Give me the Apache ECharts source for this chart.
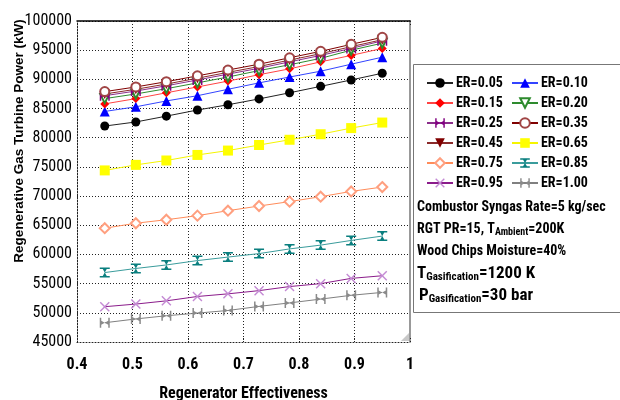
<!DOCTYPE html>
<html>
<head>
<meta charset="utf-8">
<script src="https://cdn.jsdelivr.net/npm/echarts@6/dist/echarts.min.js"></script>
<style>html,body{margin:0;padding:0;background:#fff;}#c{width:620px;height:400px;}</style>
</head>
<body>
<div id="c"></div>
<script>
var effectiveness = [0.45, 0.506, 0.561, 0.617, 0.672, 0.728, 0.783, 0.839, 0.894, 0.95];
var er005 = [82000, 82700, 83700, 84750, 85650, 86650, 87700, 88800, 89900, 91050];
var er010 = [84500, 85300, 86300, 87200, 88300, 89400, 90400, 91400, 92600, 93800];
var er015 = [85800, 86700, 87700, 88700, 89700, 90800, 91800, 93000, 94100, 95300];
var er020 = [86700, 87500, 88400, 89400, 90400, 91500, 92500, 93600, 95000, 96200];
var er025 = [87200, 88000, 88900, 89900, 90900, 91900, 93000, 94100, 95300, 96600];
var er035 = [87900, 88700, 89600, 90600, 91600, 92600, 93700, 94800, 96000, 97200];
var er045 = [87500, 88300, 89200, 90200, 91200, 92200, 93300, 94400, 95600, 96800];
var er065 = [74400, 75350, 76100, 77050, 77800, 78750, 79650, 80600, 81650, 82600];
var er075 = [64500, 65350, 65950, 66650, 67500, 68300, 69050, 69900, 70800, 71550];
var er085 = [56900, 57600, 58200, 58950, 59550, 60150, 60950, 61600, 62400, 63150];
var er095 = [51050, 51500, 52050, 52800, 53250, 53800, 54500, 55000, 55900, 56350];
var er100 = [48300, 48950, 49500, 49950, 50400, 51100, 51700, 52350, 53000, 53500];
var legendCol1 = ['ER=0.05', 'ER=0.15', 'ER=0.25', 'ER=0.45', 'ER=0.75', 'ER=0.95'];
var legendCol2 = ['ER=0.10', 'ER=0.20', 'ER=0.35', 'ER=0.65', 'ER=0.85', 'ER=1.00'];

var NARROW = "'Liberation Sans Narrow','Arial Narrow','Roboto Condensed',sans-serif";
var BOWTIE = 'path://M0,0L1.5,0L1.5,3L5,5L8.5,3L8.5,0L10,0L10,10L8.5,10L8.5,7L5,5L1.5,7L1.5,10L0,10Z';
var HOURGLASS = 'path://M0,0L10,0L10,1.5L7,1.5L5,5L7,8.5L10,8.5L10,10L0,10L0,8.5L3,8.5L5,5L3,1.5L0,1.5Z';
var XMARK = 'path://M0,1L1,0L5,4L9,0L10,1L6,5L10,9L9,10L5,6L1,10L0,9L4,5Z';

function pairs(ys) { return effectiveness.map(function (x, i) { return [x, ys[i]]; }); }
function mk(name, ys, lineColor, symbol, symColor, size, rotate) {
  return {
    name: name, type: 'line', data: pairs(ys), symbol: symbol, symbolSize: size,
    symbolRotate: rotate || 0, showSymbol: true,
    lineStyle: { color: lineColor, width: 1 },
    itemStyle: { color: symColor, borderColor: symColor, borderWidth: symbol.indexOf('empty') === 0 ? 1.2 : 0 },
    emphasis: { disabled: true }, animation: false
  };
}

var chart = echarts.init(document.getElementById('c'), null, { renderer: 'canvas' });
var dotted = { type: [1, 2], color: '#222', width: 1 };
var option = {
  backgroundColor: '#fff',
  animation: false,
  grid: { left: 77, right: 210, top: 21, bottom: 58, show: false, containLabel: false, outerBoundsMode: 'none' },
  xAxis: [
    { type: 'value', min: 0.4, max: 1, interval: 0.1, position: 'bottom',
      axisLine: { show: true, lineStyle: dotted },
      axisTick: { show: true, inside: true, length: 4, lineStyle: dotted },
      splitLine: { show: true, lineStyle: dotted },
      axisLabel: { color: '#000', fontSize: 16, fontWeight: 'bold', fontFamily: NARROW, margin: 15 },
      name: 'Regenerator Effectiveness', nameLocation: 'middle', nameGap: 44,
      nameTextStyle: { color: '#000', fontSize: 16, fontWeight: 'bold', fontFamily: NARROW } },
    { type: 'value', min: 0.4, max: 1, interval: 0.1, position: 'top',
      axisLine: { show: true, lineStyle: { color: '#000', width: 1.5 } },
      axisTick: { show: true, inside: true, length: 4, lineStyle: dotted },
      minorTick: { show: true, splitNumber: 5, length: 3, lineStyle: dotted },
      splitLine: { show: false }, axisLabel: { show: false } }
  ],
  yAxis: [
    { type: 'value', min: 45000, max: 100000, interval: 5000, position: 'left',
      axisLine: { show: true, lineStyle: dotted },
      axisTick: { show: true, inside: true, length: 4, lineStyle: dotted },
      splitLine: { show: true, lineStyle: dotted },
      axisLabel: { color: '#000', fontSize: 16, fontFamily: NARROW, margin: 5, formatter: function (v) { return String(v); } } },
    { type: 'value', min: 45000, max: 100000, interval: 5000, position: 'right',
      axisLine: { show: true, lineStyle: { color: '#999', width: 2 } },
      axisTick: { show: false }, splitLine: { show: false }, axisLabel: { show: false } }
  ],
  legend: [
    { data: legendCol1, orient: 'vertical', left: 421, top: 71, itemWidth: 26, itemHeight: 12, itemGap: 6,
      textStyle: { color: '#000', fontSize: 14, fontWeight: 'bold', fontFamily: NARROW, padding: [0, 0, 0, -2] }, selectedMode: false },
    { data: legendCol2, orient: 'vertical', left: 506, top: 71, itemWidth: 26, itemHeight: 12, itemGap: 6,
      textStyle: { color: '#000', fontSize: 14, fontWeight: 'bold', fontFamily: NARROW, padding: [0, 0, 0, -2] }, selectedMode: false }
  ],
  series: [
    mk('ER=1.00', er100, '#808080', BOWTIE, '#8a8a8a', 10),
    mk('ER=0.95', er095, '#8b1c8b', XMARK, '#c48ad4', 10),
    mk('ER=0.85', er085, '#3a9c9c', HOURGLASS, '#0a7f7f', 10),
    mk('ER=0.75', er075, '#ff8c5a', 'emptyDiamond', '#ff9f7f', 10),
    mk('ER=0.65', er065, '#f5f500', 'rect', '#ffff00', 10),
    mk('ER=0.05', er005, '#222', 'circle', '#000', 9),
    mk('ER=0.10', er010, '#3344ff', 'triangle', '#0000ff', 10),
    mk('ER=0.15', er015, '#ff4444', 'diamond', '#ff0000', 9),
    mk('ER=0.20', er020, '#2e8b2e', 'emptyTriangle', '#2e8b2e', 9, 180),
    mk('ER=0.25', er025, '#8b2e8b', BOWTIE, '#800080', 10),
    mk('ER=0.45', er045, '#8b2a2a', 'triangle', '#800000', 10, 180),
    mk('ER=0.35', er035, '#800000', 'emptyCircle', '#a04545', 9)
  ],
  graphic: [
    { type: 'text', x: 19, y: 141, rotation: Math.PI / 2,
      style: { text: 'Regenerative Gas Turbine Power (kW)', font: "bold 13.5px 'Liberation Sans',Arial,sans-serif", fill: '#000', align: 'center', verticalAlign: 'middle' } },
    { type: 'rect', shape: { x: 413.5, y: 64.5, width: 220, height: 248 }, style: { fill: 'none', stroke: '#777', lineWidth: 1 }, z: 1 },
    { type: 'text', left: 417, top: 200, style: { text: 'Combustor Syngas Rate=5 kg/sec', font: 'bold 14px ' + NARROW, fill: '#000' } },
    { type: 'text', left: 417, top: 222, style: { text: 'RGT PR=15, T{s|Ambient}=200K', font: 'bold 14px ' + NARROW, fill: '#000',
        rich: { s: { font: 'bold 10px ' + NARROW, fill: '#000', padding: [6, 0, 0, 0] } } } },
    { type: 'text', left: 417, top: 244, style: { text: 'Wood Chips Moisture=40%', font: 'bold 14px ' + NARROW, fill: '#000' } },
    { type: 'text', left: 417, top: 265, style: { text: 'T{s|Gasification}=1200 K', font: 'bold 17px ' + NARROW, fill: '#000',
        rich: { s: { font: 'bold 11px ' + NARROW, fill: '#000', padding: [7, 0, 0, 0] } } } },
    { type: 'text', left: 419, top: 287, style: { text: 'P{s|Gasification}=30 bar', font: 'bold 17px ' + NARROW, fill: '#000',
        rich: { s: { font: 'bold 11px ' + NARROW, fill: '#000', padding: [7, 0, 0, 0] } } } },
    { type: 'polygon', shape: { points: [[409, 333], [409, 341], [401, 341]] }, style: { fill: '#c8c8c8' }, z: 5 }
  ]
};
chart.setOption(option);
</script>
</body>
</html>
